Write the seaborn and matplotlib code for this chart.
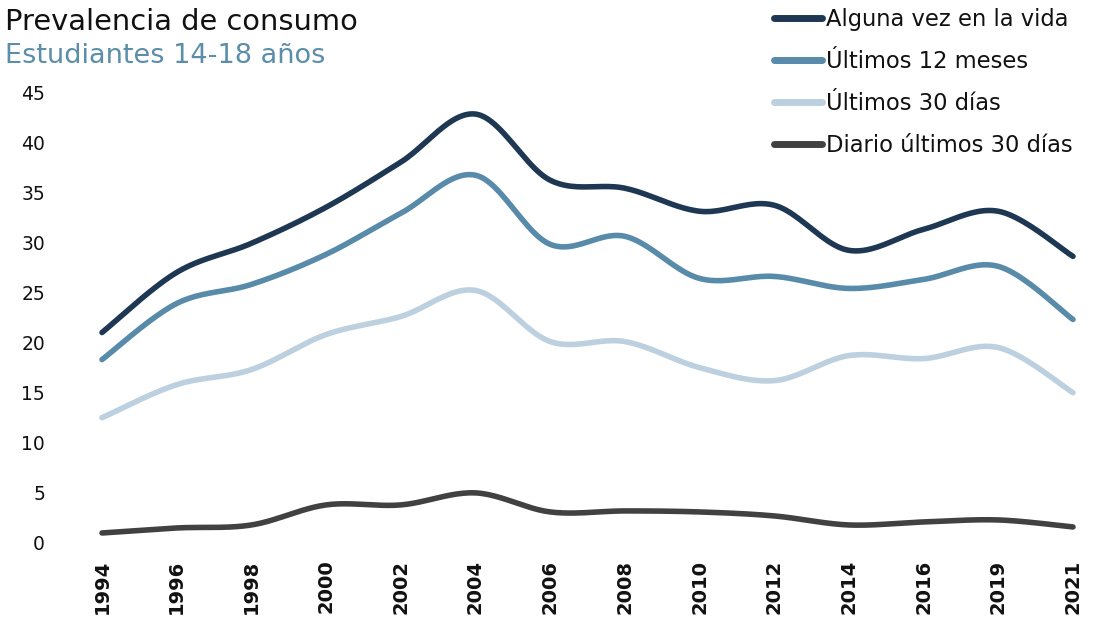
import numpy as np
import pandas as pd
import matplotlib
matplotlib.use("Agg")
import matplotlib.pyplot as plt
import seaborn as sns
from matplotlib.lines import Line2D

years = ["1994", "1996", "1998", "2000", "2002", "2004", "2006", "2008",
         "2010", "2012", "2014", "2016", "2019", "2021"]
alguna_vez = [21.0, 27.0, 29.9, 33.5, 38.0, 42.8, 36.2, 35.4, 33.1, 33.7, 29.2, 31.3, 33.1, 28.6]
ultimos_12 = [18.3, 23.9, 25.8, 28.8, 32.9, 36.7, 29.8, 30.6, 26.4, 26.6, 25.4, 26.3, 27.6, 22.3]
ultimos_30 = [12.5, 15.8, 17.3, 20.8, 22.6, 25.2, 20.1, 20.1, 17.5, 16.2, 18.7, 18.4, 19.5, 15.0]
diario_30 = [1.0, 1.5, 1.8, 3.8, 3.8, 5.0, 3.1, 3.2, 3.1, 2.7, 1.8, 2.1, 2.3, 1.6]

series_names = ["Alguna vez en la vida", "Últimos 12 meses", "Últimos 30 días", "Diario últimos 30 días"]
series_vals = [alguna_vez, ultimos_12, ultimos_30, diario_30]
colors = ["#1e3753", "#588aa9", "#bcd0df", "#414141"]

FONT = ["DejaVu Sans"]


def smooth_curve(values, n=24):
    """Excel-like smoothed line (Catmull-Rom / cubic Bezier) through the data points."""
    y = np.asarray(values, float)
    x = np.arange(len(y), dtype=float)
    xs, ys = [], []
    for i in range(len(y) - 1):
        i0 = max(i - 1, 0)
        i3 = min(i + 2, len(y) - 1)
        p0 = np.array([x[i0], y[i0]]); p1 = np.array([x[i], y[i]])
        p2 = np.array([x[i + 1], y[i + 1]]); p3 = np.array([x[i3], y[i3]])
        c1 = p1 + (p2 - p0) / 6.0
        c2 = p2 - (p3 - p1) / 6.0
        t = np.linspace(0, 1, n, endpoint=(i == len(y) - 2))
        b = ((1 - t) ** 3)[:, None] * p1 + (3 * (1 - t) ** 2 * t)[:, None] * c1 \
            + (3 * (1 - t) * t ** 2)[:, None] * c2 + (t ** 3)[:, None] * p2
        xs.append(b[:, 0]); ys.append(b[:, 1])
    return np.concatenate(xs), np.concatenate(ys)


sns.set_theme(style="white")
plt.rcParams["font.family"] = FONT

fig = plt.figure(figsize=(11, 6.2), dpi=100)
W, H = 1100, 620
left_px, right_px, top_px, bottom_px = 102, 1073, 92, 543
ax = fig.add_axes([left_px / W, 1 - bottom_px / H, (right_px - left_px) / W, (bottom_px - top_px) / H])

frames = []
for name, vals in zip(series_names, series_vals):
    sx, sy = smooth_curve(vals)
    frames.append(pd.DataFrame({"x": sx, "y": sy, "serie": name}))
df = pd.concat(frames, ignore_index=True)

sns.lineplot(data=df, x="x", y="y", hue="serie", palette=dict(zip(series_names, colors)),
             hue_order=series_names, sort=False, estimator=None, linewidth=4.0,
             ax=ax, legend=False)
for ln in ax.get_lines():
    ln.set_solid_capstyle("round")
    ln.set_clip_on(False)

ax.set_xlim(0, len(years) - 1)
ax.set_ylim(0, 45)
ax.set_yticks(np.arange(0, 46, 5))
ax.set_yticklabels([str(v) for v in range(0, 46, 5)], fontsize=13.5, color="#111111")
ax.set_xticks(range(len(years)))
ax.set_xticklabels(years, rotation=90, fontsize=14, fontweight="bold", color="#111111")
ax.tick_params(axis="y", length=0, pad=41)
ax.tick_params(axis="x", length=0, pad=12)
ax.set_xlabel("")
ax.set_ylabel("")
for s in ax.spines.values():
    s.set_visible(False)
ax.grid(False)

# Titles
fig.text(5 / W, 1 - 30 / H, "Prevalencia de consumo", fontsize=20.8, color="#111111",
         ha="left", va="baseline")
fig.text(5 / W, 1 - 63 / H, "Estudiantes 14-18 años", fontsize=19.5, color="#5b8ea8",
         ha="left", va="baseline")

# Legend
handles = [Line2D([0], [0], color=c, lw=5, solid_capstyle="round") for c in colors]
leg = fig.legend(handles, series_names, loc="upper left",
                 bbox_to_anchor=(774 / W, 1 - 8 / H), frameon=False,
                 fontsize=16.3, handlelength=2.1, handletextpad=0.2,
                 labelspacing=0.84, borderaxespad=0, borderpad=0)
for t in leg.get_texts():
    t.set_color("#111111")

fig.savefig("out.png", dpi=100)
